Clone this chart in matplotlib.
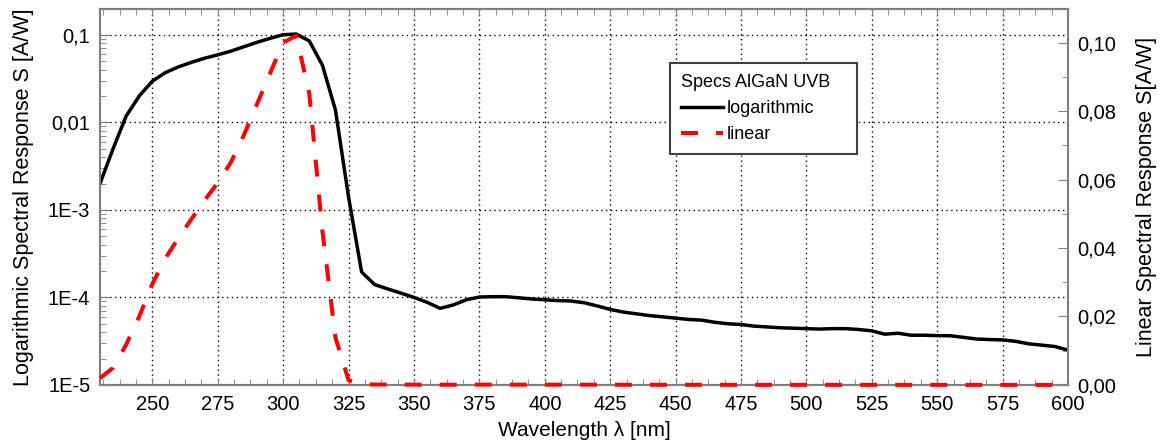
import matplotlib
matplotlib.use("Agg")
import matplotlib.pyplot as plt
from matplotlib.ticker import FixedLocator, FixedFormatter, MultipleLocator, LogLocator, NullFormatter

plt.rcParams["font.family"] = ["Liberation Sans", "DejaVu Sans"]

# spectral response of the AlGaN UVB sensor (same data on both axes)
wavelength = [230, 235, 240, 245, 250, 255, 260, 265, 270, 275, 280, 285, 290, 295,
              300, 305, 310, 315, 320, 325, 330, 335, 340, 345, 350, 355, 360, 365,
              370, 375, 380, 385, 390, 395, 400, 405, 410, 415, 420, 425, 430, 435,
              440, 445, 450, 455, 460, 465, 470, 475, 480, 485, 490, 495, 500, 505,
              510, 515, 520, 525, 530, 535, 540, 545, 550, 555, 560, 565, 570, 575,
              580, 585, 590, 595, 600]
response = [2.0e-3, 5.0e-3, 1.18e-2, 2.0e-2, 2.95e-2, 3.7e-2, 4.3e-2, 4.85e-2, 5.4e-2,
            5.9e-2, 6.5e-2, 7.3e-2, 8.2e-2, 9.1e-2, 1.0e-1, 1.02e-1, 8.5e-2, 4.5e-2,
            1.38e-2, 1.4e-3, 1.95e-4, 1.4e-4, 1.25e-4, 1.12e-4, 1.0e-4, 8.8e-5, 7.5e-5,
            8.2e-5, 9.4e-5, 1.01e-4, 1.02e-4, 1.02e-4, 9.9e-5, 9.6e-5, 9.4e-5, 9.2e-5,
            9.1e-5, 8.7e-5, 8.0e-5, 7.3e-5, 6.8e-5, 6.5e-5, 6.2e-5, 6.0e-5, 5.8e-5,
            5.6e-5, 5.5e-5, 5.2e-5, 5.0e-5, 4.9e-5, 4.7e-5, 4.6e-5, 4.5e-5, 4.45e-5,
            4.4e-5, 4.35e-5, 4.4e-5, 4.4e-5, 4.3e-5, 4.15e-5, 3.8e-5, 3.9e-5, 3.7e-5,
            3.7e-5, 3.66e-5, 3.65e-5, 3.5e-5, 3.35e-5, 3.3e-5, 3.27e-5, 3.15e-5,
            2.95e-5, 2.85e-5, 2.75e-5, 2.5e-5]

x_ticks = [250, 275, 300, 325, 350, 375, 400, 425, 450, 475, 500, 525, 550, 575, 600]
log_ticks = [1e-5, 1e-4, 1e-3, 1e-2, 1e-1]
log_labels = ["1E-5", "1E-4", "1E-3", "0,01", "0,1"]
lin_ticks = [0.0, 0.02, 0.04, 0.06, 0.08, 0.10]
lin_labels = ["0,00", "0,02", "0,04", "0,06", "0,08", "0,10"]

SPINE = "#808080"
FS = 14.5

fig = plt.figure(figsize=(11.63, 4.43), dpi=100)
ax = fig.add_axes([0.086, 0.131, 0.8323, 0.8487])
ax2 = ax.twinx()

l1, = ax.plot(wavelength, response, color="black", lw=2.5, label="logarithmic", zorder=3)
l2, = ax2.plot(wavelength, response, color="red", lw=2.9, dashes=(4.2, 4.5),
               label="linear", clip_on=False, zorder=3)

ax.set_xlim(230, 600)
ax.set_yscale("log")
ax.set_ylim(1e-5, 0.197)
ax2.set_ylim(0, 0.1098)

ax.xaxis.set_major_locator(FixedLocator(x_ticks))
ax.xaxis.set_minor_locator(MultipleLocator(6.25))
ax.yaxis.set_major_locator(FixedLocator(log_ticks))
ax.yaxis.set_major_formatter(FixedFormatter(log_labels))
ax.yaxis.set_minor_locator(LogLocator(base=10, subs=range(2, 10), numticks=20))
ax.yaxis.set_minor_formatter(NullFormatter())
ax2.yaxis.set_major_locator(FixedLocator(lin_ticks))
ax2.yaxis.set_major_formatter(FixedFormatter(lin_labels))
ax2.yaxis.set_minor_locator(MultipleLocator(0.01))

ax.grid(True, which="major", color="black", lw=1.0, linestyle=(0, (1, 2.5)))

ax.tick_params(axis="x", which="both", direction="in", top=True, bottom=True,
               colors=SPINE, labelcolor="black", labelsize=FS, pad=7)
ax.tick_params(axis="x", which="major", length=5)
ax.tick_params(axis="x", which="minor", length=4)
ax.tick_params(axis="y", which="both", direction="in", left=True, right=False,
               colors=SPINE, labelcolor="black", labelsize=FS, pad=7)
ax.tick_params(axis="y", which="major", length=7)
ax.tick_params(axis="y", which="minor", length=4)
ax2.tick_params(axis="y", which="both", direction="in", colors=SPINE,
                labelcolor="black", labelsize=FS, pad=7)
ax2.tick_params(axis="y", which="major", length=7)
ax2.tick_params(axis="y", which="minor", length=4)

for a in (ax, ax2):
    for s in a.spines.values():
        s.set_color(SPINE)
        s.set_linewidth(1.5)

ax.set_xlabel("Wavelength λ [nm]", fontsize=15, labelpad=5)
ax.set_ylabel("Logarithmic Spectral Response S [A/W]", fontsize=15.5, labelpad=10)
ax2.set_ylabel("Linear Spectral Response S[A/W]", fontsize=15.5, labelpad=14)

leg = ax2.legend(handles=[l1, l2], title="Specs AlGaN UVB", loc="upper left",
                 bbox_to_anchor=(0.589, 0.63, 0.193, 0.226), mode="expand",
                 borderaxespad=0, fontsize=13, title_fontsize=13, fancybox=False,
                 framealpha=1, edgecolor="#404040", handlelength=2.35,
                 handletextpad=0.2, labelspacing=0.5, borderpad=0.6)
leg.get_frame().set_linewidth(1.5)
leg._legend_box.align = "left"

fig.savefig("out.png", dpi=100)
